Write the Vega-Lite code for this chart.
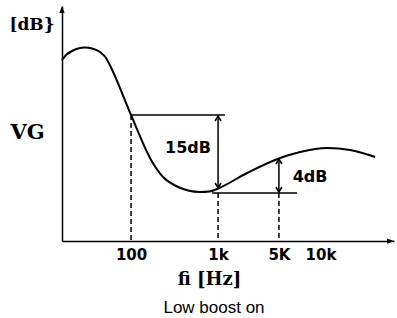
{
  "$schema": "https://vega.github.io/schema/vega-lite/v6.json",
  "width": 332,
  "height": 235,
  "autosize": {"type": "none"},
  "padding": {"left": 62, "top": 6, "right": 3, "bottom": 77},
  "config": {"view": {"stroke": null}},
  "title": {"text": "Low boost on", "orient": "bottom", "anchor": "middle", "dx": -14, "offset": 12, "font": "Liberation Sans", "fontSize": 17, "fontWeight": "normal", "color": "black"},
  "datasets": {
    "curve": [
      {"f": 16.1, "v": 181},
      {"f": 17.9, "v": 186},
      {"f": 21, "v": 190},
      {"f": 24.6, "v": 192.5},
      {"f": 29.6, "v": 193.5},
      {"f": 35.6, "v": 192.5},
      {"f": 44, "v": 189},
      {"f": 51.6, "v": 183},
      {"f": 57.4, "v": 175.5},
      {"f": 100, "v": 126},
      {"f": 170, "v": 81},
      {"f": 233, "v": 64},
      {"f": 320, "v": 55.5},
      {"f": 452, "v": 50.5},
      {"f": 621, "v": 49},
      {"f": 800, "v": 49.5},
      {"f": 1000, "v": 52.5},
      {"f": 2154, "v": 68},
      {"f": 5160, "v": 83},
      {"f": 8770, "v": 89},
      {"f": 17900, "v": 93},
      {"f": 32900, "v": 91},
      {"f": 63800, "v": 84}
    ],
    "drops": [
      {"f": 100, "v": 126},
      {"f": 1000, "v": 48},
      {"f": 5000, "v": 48}
    ],
    "levels": [
      {"f": 100, "f2": 1200, "v": 126},
      {"f": 853, "f2": 8090, "v": 48}
    ],
    "spans": [
      {"f": 1000, "v": 125, "lo": 53},
      {"f": 5000, "v": 82, "lo": 49}
    ],
    "spanTops": [
      {"f": 1000, "v": 125},
      {"f": 5000, "v": 82}
    ],
    "spanBottoms": [
      {"f": 1000, "v": 53},
      {"f": 5000, "v": 49}
    ],
    "labels": [
      {"f": 452, "v": 93, "label": "15dB"},
      {"f": 11400, "v": 64, "label": "4dB"}
    ],
    "unit": [
      {"f": 7.28, "v": 216, "label": "[dB}"}
    ],
    "xEnd": [{"f": 105000, "v": 0}],
    "yEnd": [{"f": 16.1, "v": 235}]
  },
  "encoding": {
    "x": {
      "field": "f",
      "type": "quantitative",
      "scale": {"type": "log", "domain": [16.1, 105000], "nice": false},
      "axis": {
        "values": [100, 1000, 5000, 10000],
        "labelExpr": "datum.value == 100 ? '100' : datum.value == 1000 ? '1k' : datum.value == 5000 ? '5K' : '10k'",
        "labelAlign": {"condition": {"test": "datum.value == 10000", "value": "left"}, "value": "center"},
        "ticks": false,
        "grid": false,
        "domainColor": "black",
        "domainWidth": 1.5,
        "labelFont": "DejaVu Sans",
        "labelFontWeight": "bold",
        "labelFontSize": 15,
        "labelColor": "black",
        "labelPadding": 6,
        "labelFlush": false,
        "labelOverlap": false,
        "title": "fi [Hz]",
        "titleFont": "DejaVu Serif",
        "titleFontSize": 18,
        "titleFontWeight": "bold",
        "titleColor": "black",
        "titleX": 147,
        "titleY": 38,
        "titleAlign": "center",
        "titleBaseline": "middle"
      }
    },
    "y": {
      "field": "v",
      "type": "quantitative",
      "scale": {"domain": [0, 235], "nice": false, "zero": false},
      "axis": {
        "title": "VG",
        "titleAngle": 0,
        "titleX": -35,
        "titleY": 126,
        "titleAlign": "center",
        "titleBaseline": "middle",
        "titleFont": "DejaVu Serif",
        "titleFontSize": 21,
        "titleFontWeight": "bold",
        "titleColor": "black",
        "labels": false,
        "ticks": false,
        "grid": false,
        "domainColor": "black",
        "domainWidth": 1.5
      }
    }
  },
  "layer": [
    {
      "data": {"name": "drops"},
      "mark": {"type": "rule", "color": "black", "strokeWidth": 1.5, "strokeDash": [5, 3]},
      "encoding": {"y2": {"datum": 0}}
    },
    {
      "data": {"name": "levels"},
      "mark": {"type": "rule", "color": "black", "strokeWidth": 1.5},
      "encoding": {"x2": {"field": "f2"}}
    },
    {
      "data": {"name": "spans"},
      "mark": {"type": "rule", "color": "black", "strokeWidth": 1.5},
      "encoding": {"y2": {"field": "lo"}}
    },
    {
      "data": {"name": "spanTops"},
      "mark": {"type": "point", "shape": "M-0.6,1L0,0L0.6,1", "filled": false, "stroke": "black", "strokeWidth": 1.5, "size": 100, "opacity": 1}
    },
    {
      "data": {"name": "spanBottoms"},
      "mark": {"type": "point", "shape": "M-0.6,-1L0,0L0.6,-1", "filled": false, "stroke": "black", "strokeWidth": 1.5, "size": 100, "opacity": 1}
    },
    {
      "data": {"name": "curve"},
      "mark": {"type": "line", "color": "black", "strokeWidth": 2, "interpolate": "monotone"}
    },
    {
      "data": {"name": "labels"},
      "mark": {"type": "text", "font": "DejaVu Sans", "fontWeight": "bold", "fontSize": 16, "color": "black", "align": "center", "baseline": "middle"},
      "encoding": {"text": {"field": "label"}}
    },
    {
      "data": {"name": "unit"},
      "mark": {"type": "text", "font": "DejaVu Serif", "fontWeight": "bold", "fontSize": 17, "color": "black", "align": "center", "baseline": "middle"},
      "encoding": {"text": {"field": "label"}}
    },
    {
      "data": {"name": "xEnd"},
      "mark": {"type": "point", "shape": "M0,0L-2,-0.75L-2,0.75Z", "filled": true, "color": "black", "size": 49, "opacity": 1, "strokeWidth": 0}
    },
    {
      "data": {"name": "yEnd"},
      "mark": {"type": "point", "shape": "M0,0L-0.75,2L0.75,2Z", "filled": true, "color": "black", "size": 49, "opacity": 1, "strokeWidth": 0}
    }
  ]
}
